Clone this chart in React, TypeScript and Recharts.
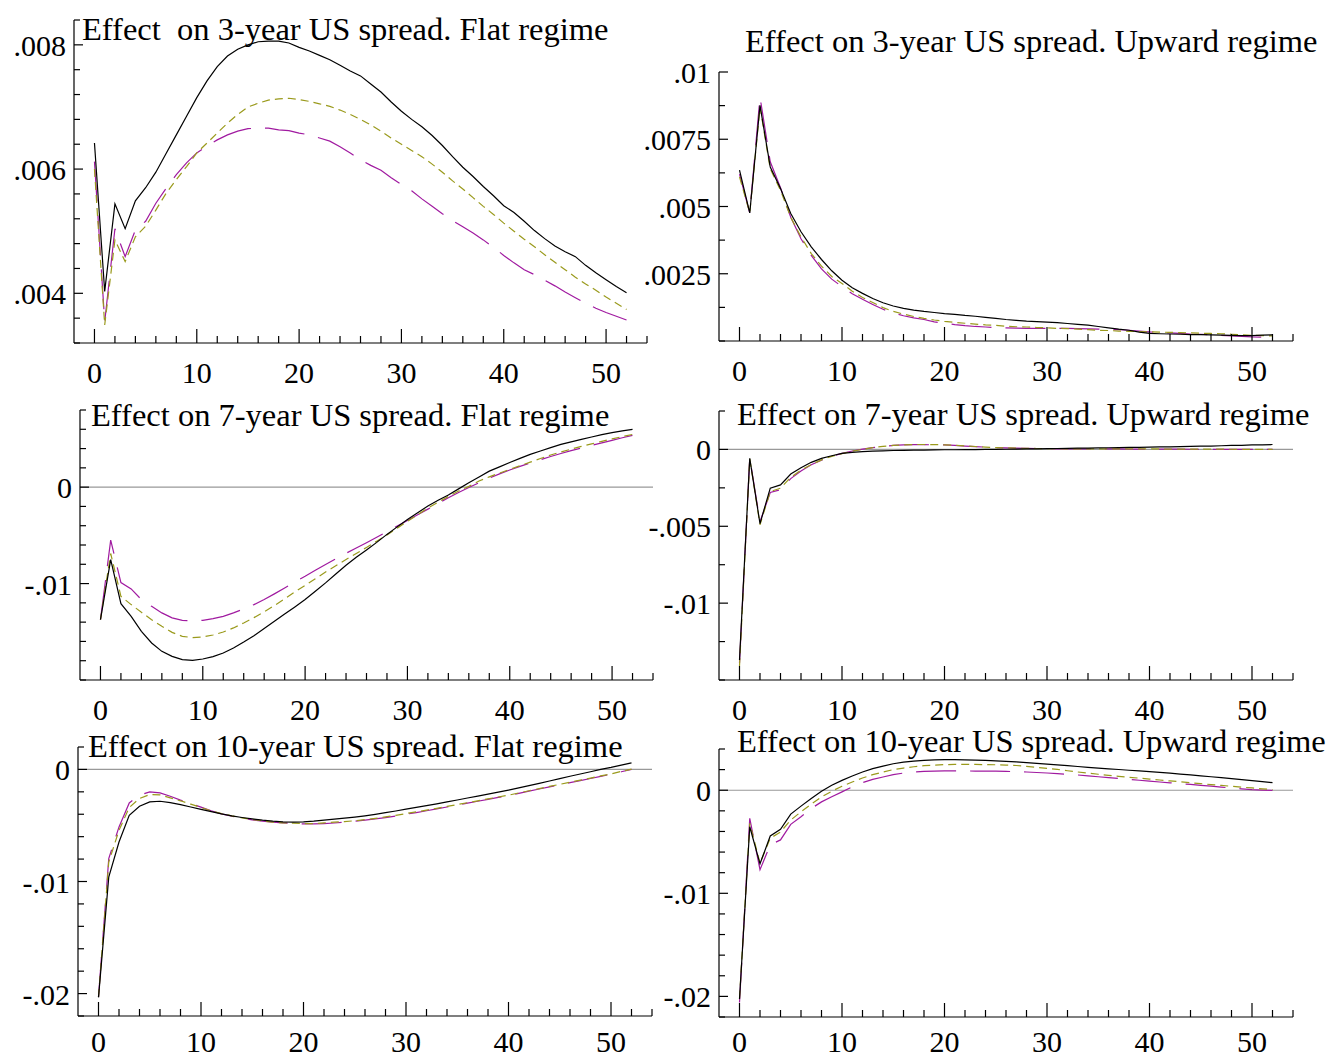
import { LineChart, Line, XAxis, YAxis, ReferenceLine } from "recharts";

// horizon (weeks after the shock)
const horizon = [
  0, 1, 2, 3, 4, 5, 6, 7, 8, 9, 10, 11, 12, 13, 14, 15, 16, 17, 18, 19, 20, 21, 22, 23, 24, 25, 26,
  27, 28, 29, 30, 31, 32, 33, 34, 35, 36, 37, 38, 39, 40, 41, 42, 43, 44, 45, 46, 47, 48, 49, 50, 51, 52,
];

// 3-year, flat regime
const flat3Solid = [
  0.00642, 0.00403, 0.00544, 0.00504, 0.00549, 0.0057, 0.00595, 0.00625, 0.00655, 0.00685, 0.00715,
  0.00742, 0.00765, 0.00782, 0.00793, 0.008, 0.00805, 0.00806, 0.00806, 0.00803, 0.00796, 0.0079,
  0.00783, 0.00776, 0.00767, 0.00758, 0.0075, 0.00737, 0.00724, 0.00708, 0.00693, 0.0068, 0.00668,
  0.00654, 0.00638, 0.0062, 0.00603, 0.00588, 0.00572, 0.00557, 0.00541, 0.0053, 0.00516, 0.00501,
  0.00488, 0.00476, 0.00467, 0.00459, 0.00445, 0.00433, 0.00422, 0.00411, 0.00401,
];
const flat3Short = [
  0.006, 0.00349, 0.00486, 0.00451, 0.00491, 0.00508, 0.00534, 0.00561, 0.00583, 0.00604, 0.00626,
  0.00642, 0.00658, 0.00674, 0.00688, 0.007, 0.00706, 0.00711, 0.00713, 0.00714, 0.00712, 0.00709,
  0.00705, 0.00701, 0.00695, 0.00688, 0.0068, 0.00671, 0.00661, 0.0065, 0.0064, 0.0063, 0.0062,
  0.00608, 0.00595, 0.00581, 0.00568, 0.00554, 0.0054, 0.00527, 0.00513, 0.005, 0.00487, 0.00475,
  0.00462, 0.0045, 0.00438, 0.00426, 0.00415, 0.00405, 0.00394, 0.00384, 0.00374,
];
const flat3Long = [
  0.00612, 0.00354, 0.00504, 0.00459, 0.00502, 0.00516, 0.00545, 0.00569, 0.00591, 0.0061, 0.00626,
  0.00637, 0.00647, 0.00655, 0.00661, 0.00665, 0.00666, 0.00666, 0.00663, 0.00662, 0.00658, 0.00655,
  0.0065, 0.00645, 0.00636, 0.00626, 0.00615, 0.00606, 0.00598, 0.00586, 0.00575, 0.00565, 0.00552,
  0.0054, 0.00528, 0.00517, 0.00507, 0.00497, 0.00486, 0.00474, 0.00461, 0.00449, 0.00438, 0.0043,
  0.00421, 0.00412, 0.00402, 0.00393, 0.00384, 0.00376, 0.00369, 0.00363, 0.00357,
];

// 3-year, upward regime
const up3Solid = [
  0.00635, 0.00476, 0.00876, 0.00647, 0.00567, 0.00474, 0.00406, 0.0035, 0.00303, 0.00261, 0.00226,
  0.00198, 0.00177, 0.00158, 0.00142, 0.0013, 0.00121, 0.00115, 0.0011, 0.00106, 0.00102, 0.00099,
  0.00095, 0.00092, 0.00088, 0.00084, 0.0008, 0.00077, 0.00074, 0.00072, 0.0007, 0.00068, 0.00065,
  0.00062, 0.00059, 0.00054, 0.00049, 0.00044, 0.0004, 0.00033, 0.00028, 0.00027, 0.00026, 0.00025,
  0.00024, 0.00024, 0.00023, 0.00022, 0.00021, 0.0002, 0.0002, 0.00022, 0.00023,
];
const up3Short = [
  0.0061, 0.00476, 0.0087, 0.0064, 0.0056, 0.0046, 0.00387, 0.00325, 0.00278, 0.0024, 0.00214,
  0.00185, 0.00162, 0.00143, 0.00124, 0.0011, 0.001, 0.00091, 0.00084, 0.00078, 0.00073, 0.00069,
  0.00066, 0.00063, 0.0006, 0.00058, 0.00055, 0.00053, 0.00052, 0.0005, 0.00049, 0.00047, 0.00046,
  0.00044, 0.00042, 0.0004, 0.00039, 0.00037, 0.00036, 0.00035, 0.00034, 0.00033, 0.00032, 0.00031,
  0.0003, 0.00029, 0.00028, 0.00027, 0.00025, 0.00023, 0.00021, 0.0002, 0.00019,
];
const up3Long = [
  0.0062, 0.00476, 0.00907, 0.00666, 0.0057, 0.0046, 0.0038, 0.00318, 0.00268, 0.0023, 0.00202,
  0.00176, 0.00155, 0.00136, 0.00118, 0.00104, 0.00094, 0.00086, 0.0008, 0.00071, 0.00066, 0.00061,
  0.00057, 0.00054, 0.00052, 0.0005, 0.00049, 0.00048, 0.00047, 0.00047, 0.00047, 0.00047, 0.00047,
  0.00046, 0.00045, 0.00044, 0.00043, 0.00042, 0.0004, 0.00037, 0.00034, 0.00032, 0.0003, 0.00028,
  0.00026, 0.00025, 0.00023, 0.00021, 0.00019, 0.00017, 0.00015, 0.00014, 0.00013,
];

// 7-year, flat regime
const flat7Solid = [
  -0.01374, -0.00751, -0.01208, -0.0134, -0.01495, -0.01616, -0.01703, -0.01755, -0.01789, -0.01796,
  -0.01782, -0.01758, -0.0172, -0.01668, -0.01606, -0.0154, -0.01467, -0.01391, -0.01315, -0.01242,
  -0.01166, -0.0108, -0.00993, -0.009, -0.0081, -0.00728, -0.00652, -0.00573, -0.0049, -0.00412,
  -0.00335, -0.00265, -0.00196, -0.00135, -0.00081, -0.00018, 0.00045, 0.00106, 0.00166, 0.0021,
  0.00255, 0.00298, 0.0034, 0.00375, 0.0041, 0.00443, 0.0047, 0.00495, 0.0052, 0.00545, 0.00565,
  0.00583, 0.00599,
];
const flat7Short = [
  -0.01374, -0.00688, -0.01132, -0.01218, -0.01298, -0.01374, -0.01443, -0.01506, -0.01547, -0.01561,
  -0.01553, -0.01533, -0.01502, -0.0146, -0.01408, -0.01353, -0.01294, -0.01228, -0.01159, -0.01086,
  -0.0102, -0.0095, -0.0088, -0.00815, -0.0075, -0.00688, -0.00625, -0.0056, -0.00495, -0.00425,
  -0.00355, -0.00285, -0.00217, -0.00155, -0.00097, -0.0004, 0.00008, 0.00063, 0.00107, 0.00146,
  0.00185, 0.00222, 0.00259, 0.00297, 0.00333, 0.00365, 0.00394, 0.00422, 0.00449, 0.00475, 0.005,
  0.00524, 0.00547,
];
const flat7Long = [
  -0.01374, -0.0055, -0.0099, -0.01055, -0.01166, -0.01236, -0.01304, -0.01356, -0.01381, -0.01388,
  -0.01381, -0.01363, -0.0134, -0.01304, -0.01263, -0.01218, -0.01166, -0.01107, -0.01045, -0.00982,
  -0.00924, -0.00862, -0.00803, -0.00744, -0.00686, -0.00632, -0.00577, -0.0052, -0.00462, -0.00404,
  -0.00345, -0.00287, -0.00228, -0.00168, -0.0011, -0.00055, -0.00004, 0.00046, 0.00093, 0.00138,
  0.00178, 0.00215, 0.00251, 0.00285, 0.00318, 0.00349, 0.00378, 0.00406, 0.00433, 0.00459, 0.00485,
  0.00512, 0.00537,
];

// 7-year, upward regime
const up7Solid = [
  -0.0137, -0.00058, -0.00483, -0.00252, -0.00231, -0.0016, -0.00119, -0.00084, -0.00058, -0.00041,
  -0.00026, -0.00019, -0.00014, -0.00011, -0.00009, -0.00007, -0.00006, -0.00005, -0.00004, -0.00003,
  -0.00002, -0.00002, -0.00001, -0.00001, 0, 0, 0.00001, 0.00002, 0.00003, 0.00004, 0.00005, 0.00006,
  0.00007, 0.00008, 0.00009, 0.0001, 0.00011, 0.00012, 0.00013, 0.00014, 0.00015, 0.00016, 0.00017,
  0.00018, 0.0002, 0.00021, 0.00022, 0.00024, 0.00026, 0.00027, 0.00029, 0.0003, 0.00032,
];
const up7Short = [
  -0.0141, -0.0006, -0.0049, -0.00274, -0.00252, -0.00181, -0.00135, -0.00098, -0.00068, -0.00045,
  -0.00027, -0.00012, 0, 0.00012, 0.0002, 0.00026, 0.0003, 0.00032, 0.00032, 0.00031, 0.0003, 0.00027,
  0.00023, 0.00019, 0.00015, 0.00012, 0.0001, 0.00008, 0.00007, 0.00006, 0.00005, 0.00005, 0.00004,
  0.00004, 0.00004, 0.00004, 0.00003, 0.00003, 0.00003, 0.00003, 0.00003, 0.00003, 0.00002, 0.00002,
  0.00002, 0.00002, 0.00002, 0.00002, 0.00001, 0.00001, 0.00001, 0.00001, 0.00001,
];
const up7Long = [
  -0.0139, -0.00055, -0.0047, -0.0028, -0.00262, -0.0019, -0.0014, -0.001, -0.0007, -0.00045,
  -0.00026, -0.0001, 0.00002, 0.00012, 0.0002, 0.00026, 0.0003, 0.00031, 0.00031, 0.0003, 0.00029,
  0.00026, 0.00022, 0.00018, 0.00015, 0.00012, 0.0001, 0.00008, 0.00007, 0.00006, 0.00005, 0.00004,
  0.00004, 0.00004, 0.00003, 0.00003, 0.00003, 0.00003, 0.00002, 0.00002, 0.00002, 0.00002, 0.00002,
  0.00002, 0.00001, 0.00001, 0.00001, 0.00001, 0.00001, 0.00001, 0.00001, 0.00001, 0.00001,
];

// 10-year, flat regime
const flat10Solid = [
  -0.02034, -0.00961, -0.00648, -0.00409, -0.00328, -0.0029, -0.00284, -0.00296, -0.00314, -0.00335,
  -0.00356, -0.00376, -0.00397, -0.00415, -0.00429, -0.00441, -0.00453, -0.00462, -0.00468, -0.00471,
  -0.00468, -0.00462, -0.00453, -0.00444, -0.00435, -0.00425, -0.00414, -0.00401, -0.00386, -0.00371,
  -0.00355, -0.00339, -0.00323, -0.00307, -0.0029, -0.00273, -0.00255, -0.00238, -0.0022, -0.00203,
  -0.00185, -0.00165, -0.00145, -0.00124, -0.00103, -0.00082, -0.00061, -0.00041, -0.00021, 0, 0.00018,
  0.00039, 0.00059,
];
const flat10Short = [
  -0.0203, -0.00826, -0.00543, -0.0034, -0.00259, -0.00224, -0.00227, -0.00254, -0.0028, -0.0031,
  -0.0034, -0.0037, -0.00394, -0.00415, -0.00432, -0.00447, -0.00459, -0.00471, -0.00477, -0.0048,
  -0.00483, -0.00483, -0.00477, -0.00471, -0.00466, -0.00458, -0.00448, -0.00437, -0.00424, -0.0041,
  -0.00394, -0.00379, -0.00363, -0.00347, -0.0033, -0.00314, -0.00297, -0.0028, -0.00263, -0.00246,
  -0.0023, -0.0021, -0.0019, -0.00171, -0.00152, -0.00133, -0.00114, -0.00096, -0.00077, -0.00058,
  -0.0004, -0.00018, 0.00003,
];
const flat10Long = [
  -0.0203, -0.00796, -0.00513, -0.00299, -0.0023, -0.002, -0.00209, -0.00239, -0.00274, -0.00304,
  -0.00337, -0.0037, -0.00397, -0.00418, -0.00436, -0.0045, -0.00461, -0.0047, -0.00477, -0.00483,
  -0.00486, -0.00486, -0.00483, -0.00478, -0.00471, -0.00463, -0.00453, -0.00442, -0.0043, -0.00416,
  -0.004, -0.00385, -0.00369, -0.00352, -0.00335, -0.00318, -0.00301, -0.00284, -0.00267, -0.0025,
  -0.00233, -0.00214, -0.00194, -0.00175, -0.00156, -0.00137, -0.00118, -0.001, -0.00081, -0.00062,
  -0.00043, -0.00021, 0.00001,
];

// 10-year, upward regime
const up10Solid = [
  -0.02025, -0.00354, -0.00714, -0.00444, -0.00379, -0.00231, -0.00154, -0.0008, -0.0001, 0.00048,
  0.00096, 0.00138, 0.00177, 0.00209, 0.00234, 0.00257, 0.00273, 0.00283, 0.00289, 0.00294, 0.00296,
  0.00296, 0.00295, 0.00293, 0.00289, 0.00284, 0.0028, 0.00275, 0.00268, 0.00261, 0.00254, 0.00246,
  0.00238, 0.0023, 0.00222, 0.00215, 0.00208, 0.00201, 0.00194, 0.00187, 0.0018, 0.00173, 0.00165,
  0.00157, 0.00149, 0.0014, 0.00131, 0.00122, 0.00112, 0.00103, 0.00093, 0.00084, 0.00074,
];
const up10Short = [
  -0.0202, -0.00321, -0.00707, -0.00466, -0.00405, -0.00289, -0.00209, -0.00135, -0.00064, -0.0001,
  0.00039, 0.0008, 0.00119, 0.00151, 0.00177, 0.002, 0.00215, 0.00228, 0.00238, 0.00244, 0.00248,
  0.0025, 0.0025, 0.0025, 0.00249, 0.00247, 0.00244, 0.0024, 0.00232, 0.00222, 0.00212, 0.00202,
  0.00189, 0.00177, 0.00166, 0.00155, 0.00145, 0.00135, 0.00126, 0.00117, 0.00108, 0.00099, 0.0009,
  0.00082, 0.00073, 0.00064, 0.00055, 0.00047, 0.00038, 0.0003, 0.00022, 0.00014, 0.00006,
];
const up10Long = [
  -0.0206, -0.00273, -0.00771, -0.0053, -0.00482, -0.00331, -0.00257, -0.00177, -0.00113, -0.00064,
  -0.00016, 0.00032, 0.00074, 0.00106, 0.00128, 0.00151, 0.00167, 0.00177, 0.00183, 0.00186, 0.00187,
  0.00187, 0.00187, 0.00186, 0.00186, 0.00185, 0.00183, 0.0018, 0.00177, 0.00172, 0.00167, 0.00161,
  0.00155, 0.00148, 0.0014, 0.00131, 0.00122, 0.00114, 0.00105, 0.00097, 0.00089, 0.0008, 0.00072,
  0.00064, 0.00056, 0.00047, 0.00039, 0.0003, 0.00022, 0.00013, 0.00005, 0.00001, -0.00002,
];

// axis ticks
const xTicks = [0, 2, 4, 6, 8, 10, 12, 14, 16, 18, 20, 22, 24, 26, 28, 30, 32, 34, 36, 38, 40, 42, 44, 46, 48, 50, 52, 54];
const xLabels = [0, 10, 20, 30, 40, 50];

const flat3Ticks = [0.0032, 0.0036, 0.004, 0.0044, 0.0048, 0.0052, 0.0056, 0.006, 0.0064, 0.0068, 0.0072, 0.0076, 0.008, 0.0084];
const flat3Labels = [0.004, 0.006, 0.008];
const up3Ticks = [0, 0.00125, 0.0025, 0.00375, 0.005, 0.00625, 0.0075, 0.00875, 0.01];
const up3Labels = [0.0025, 0.005, 0.0075, 0.01];
const flat7Ticks = [-0.02, -0.018, -0.016, -0.014, -0.012, -0.01, -0.008, -0.006, -0.004, -0.002, 0, 0.002, 0.004, 0.006, 0.008];
const flat7Labels = [-0.01, 0];
const up7Ticks = [-0.015, -0.0125, -0.01, -0.0075, -0.005, -0.0025, 0, 0.0025];
const up7Labels = [-0.01, -0.005, 0];
const flat10Ticks = [-0.022, -0.02, -0.018, -0.016, -0.014, -0.012, -0.01, -0.008, -0.006, -0.004, -0.002, 0, 0.002];
const flat10Labels = [-0.02, -0.01, 0];
const up10Ticks = [-0.022, -0.02, -0.018, -0.016, -0.014, -0.012, -0.01, -0.008, -0.006, -0.004, -0.002, 0, 0.002, 0.004];
const up10Labels = [-0.02, -0.01, 0];

const FONT = '"Liberation Serif", "Times New Roman", serif';
const OLIVE = "#9a9a1c";
const PURPLE = "#a01aa0";
const YW = 60;
const XH = 40;

const fmt = (v: number) => (v === 0 ? "0" : String(v).replace("0.", "."));

function rows(solid: number[], short: number[], long: number[]) {
  return horizon.map((h, i) => ({ h, solid: solid[i], short: short[i], long: long[i] }));
}

const panels = [
  {
    title: "Effect  on 3-year US spread. Flat regime",
    data: rows(flat3Solid, flat3Short, flat3Long),
    ticks: flat3Ticks, labels: flat3Labels,
    box: { left: 0, top: 0, width: 660, height: 400 },
    plot: { l: 74, t: 20, r: 647, b: 343 },
    titleX: 82, titleY: 40, zero: false, labelDy: 40,
  },
  {
    title: "Effect on 3-year US spread. Upward regime",
    data: rows(up3Solid, up3Short, up3Long),
    ticks: up3Ticks, labels: up3Labels,
    box: { left: 600, top: 0, width: 732, height: 400 },
    plot: { l: 719, t: 72, r: 1293, b: 341 },
    titleX: 745, titleY: 52, zero: false, labelDy: 40,
  },
  {
    title: "Effect on 7-year US spread. Flat regime",
    data: rows(flat7Solid, flat7Short, flat7Long),
    ticks: flat7Ticks, labels: flat7Labels,
    box: { left: 0, top: 400, width: 660, height: 330 },
    plot: { l: 80, t: 410, r: 653, b: 680 },
    titleX: 91, titleY: 426, zero: true, labelDy: 40,
  },
  {
    title: "Effect on 7-year US spread. Upward regime",
    data: rows(up7Solid, up7Short, up7Long),
    ticks: up7Ticks, labels: up7Labels,
    box: { left: 600, top: 400, width: 732, height: 330 },
    plot: { l: 719, t: 411, r: 1293, b: 680 },
    titleX: 737, titleY: 425, zero: true, labelDy: 40,
  },
  {
    title: "Effect on 10-year US spread. Flat regime",
    data: rows(flat10Solid, flat10Short, flat10Long),
    ticks: flat10Ticks, labels: flat10Labels,
    box: { left: 0, top: 730, width: 660, height: 329 },
    plot: { l: 78, t: 747, r: 652, b: 1016 },
    titleX: 88, titleY: 757, zero: true, labelDy: 36,
  },
  {
    title: "Effect on 10-year US spread. Upward regime",
    data: rows(up10Solid, up10Short, up10Long),
    ticks: up10Ticks, labels: up10Labels,
    box: { left: 600, top: 730, width: 732, height: 329 },
    plot: { l: 719, t: 749, r: 1293, b: 1017 },
    titleX: 737, titleY: 752, zero: true, labelDy: 35,
  },
];

function makeXTick(labelDy: number) {
  return (props: any) => {
    const { x, y, payload } = props;
    const v = payload.value;
    const major = xLabels.includes(v);
    return (
      <g>
        <line x1={x} x2={x} y1={y} y2={y - (major ? 14 : 7)} stroke="#000" strokeWidth={1.2} />
        {major ? (
          <text x={x} y={y + labelDy} textAnchor="middle" fontFamily={FONT} fontSize={30} fill="#000">
            {v}
          </text>
        ) : null}
      </g>
    );
  };
}

function makeYTick(labels: number[]) {
  return (props: any) => {
    const { x, y, payload } = props;
    const lab = labels.find((l) => Math.abs(l - payload.value) < 1e-9);
    const major = lab !== undefined;
    return (
      <g>
        <line x1={x} x2={x + (major ? 9 : 6)} y1={y} y2={y} stroke="#000" strokeWidth={1.2} />
        {major ? (
          <text x={x - 8} y={y + 11} textAnchor="end" fontFamily={FONT} fontSize={30} fill="#000">
            {fmt(lab as number)}
          </text>
        ) : null}
      </g>
    );
  };
}

function Panel({ p }: { p: (typeof panels)[number] }) {
  const { box, plot } = p;
  const margin = {
    top: plot.t - box.top,
    left: plot.l - box.left - YW,
    right: box.left + box.width - plot.r,
    bottom: box.top + box.height - plot.b - XH,
  };
  const yMin = p.ticks[0];
  const yMax = p.ticks[p.ticks.length - 1];
  return (
    <div style={{ position: "absolute", left: box.left, top: box.top, width: box.width, height: box.height }}>
      <LineChart width={box.width} height={box.height} data={p.data} margin={margin}>
        <XAxis
          type="number"
          dataKey="h"
          domain={[-2, 54]}
          allowDataOverflow
          ticks={xTicks}
          interval={0}
          tick={makeXTick(p.labelDy)}
          tickLine={false}
          tickSize={0}
          tickMargin={0}
          height={XH}
          axisLine={{ stroke: "#000", strokeWidth: 1.2 }}
        />
        <YAxis
          type="number"
          domain={[yMin, yMax]}
          allowDataOverflow
          ticks={p.ticks}
          interval={0}
          tick={makeYTick(p.labels)}
          tickLine={false}
          tickSize={0}
          tickMargin={0}
          width={YW}
          axisLine={{ stroke: "#000", strokeWidth: 1.2 }}
        />
        {p.zero ? <ReferenceLine y={0} stroke="#999" strokeWidth={1.2} /> : null}
        <Line type="linear" dataKey="long" stroke={PURPLE} strokeWidth={1.2} strokeDasharray="40 14" dot={false} isAnimationActive={false} />
        <Line type="linear" dataKey="short" stroke={OLIVE} strokeWidth={1.2} strokeDasharray="8 5" dot={false} isAnimationActive={false} />
        <Line type="linear" dataKey="solid" stroke="#000" strokeWidth={1.2} dot={false} isAnimationActive={false} />
      </LineChart>
    </div>
  );
}

export default function App() {
  return (
    <div style={{ position: "absolute", left: 0, top: 0, width: 1332, height: 1059, background: "#fff" }}>
      {panels.map((p, i) => (
        <Panel key={i} p={p} />
      ))}
      <svg width={1332} height={1059} style={{ position: "absolute", left: 0, top: 0, pointerEvents: "none" }}>
        {panels.map((p, i) => (
          <text key={i} x={p.titleX} y={p.titleY} fontFamily={FONT} fontSize={32.5} fill="#000" style={{ whiteSpace: "pre" }}>
            {p.title}
          </text>
        ))}
      </svg>
    </div>
  );
}
